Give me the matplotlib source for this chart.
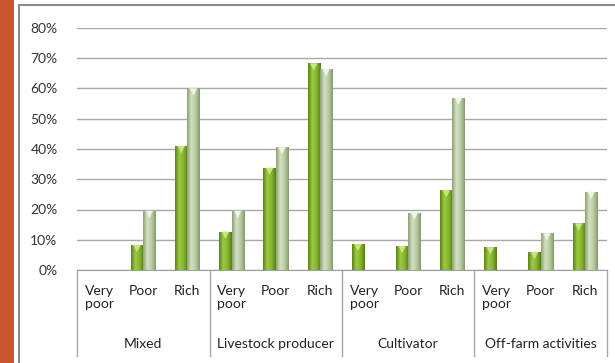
import numpy as np
import matplotlib
matplotlib.use("Agg")
import matplotlib.pyplot as plt
from matplotlib.patches import Rectangle
from matplotlib.colors import LinearSegmentedColormap
import matplotlib.transforms as mtransforms

plt.rcParams['font.family'] = ['Lato', 'DejaVu Sans']

# data
groups = ["Mixed", "Livestock producer", "Cultivator", "Off-farm activities"]
levels = ["Very\npoor", "Poor", "Rich"]
dark_vals = [0.0, 8.3, 41.0, 12.7, 33.8, 68.3, 8.6, 7.9, 26.4, 7.5, 6.0, 15.4]
light_vals = [0.0, 19.6, 60.0, 19.6, 40.6, 66.4, 0.0, 19.0, 57.0, 0.0, 12.1, 25.9]
yticks = [0, 10, 20, 30, 40, 50, 60, 70, 80]

fig = plt.figure(figsize=(6.15, 3.63), dpi=100)
fig.patch.set_facecolor("white")

# red stripe and grey frame (frame runs off the right and bottom edges)
fig.add_artist(Rectangle((0, 0), 14 / 615, 1, transform=fig.transFigure,
                         facecolor="#C9532F", edgecolor="none"))
fig.add_artist(Rectangle((19 / 615, -0.05), 0.99, 1 - 5 / 363 + 0.05,
                         transform=fig.transFigure, facecolor="none",
                         edgecolor="#8A8A8A", linewidth=1.5))

ax = fig.add_axes([77 / 615, 1 - 270 / 363, 530 / 615, 242 / 363])
ax.set_xlim(-0.5, 11.5)
ax.set_ylim(0, 80)
ax.set_yticks(yticks)
ax.set_yticklabels([f"{t}%" for t in yticks], fontsize=10, color="#333333")
ax.tick_params(axis="y", length=0, pad=14)
ax.set_xticks([])
for s in ["top", "right", "left"]:
    ax.spines[s].set_visible(False)
ax.spines["bottom"].set_color("#A0A0A0")
ax.yaxis.grid(True, color="#A8A8A8", linewidth=1)
ax.set_axisbelow(True)

dark_cmap = LinearSegmentedColormap.from_list("d", ["#5A8419", "#9CCB3E", "#86B52E", "#557D18"])
light_cmap = LinearSegmentedColormap.from_list("l", ["#8DA173", "#D3E1C3", "#B8CCA2", "#869B6C"])
grad = np.linspace(0, 1, 64).reshape(1, -1)

x = np.arange(len(dark_vals))
w = 0.28
for vals, off, cmap, cap in [(dark_vals, -0.14, dark_cmap, "#C8E67A"),
                             (light_vals, 0.14, light_cmap, "#EEF4E4")]:
    bars = ax.bar(x + off, vals, width=w, color="none", edgecolor="none", zorder=3)
    for b, v in zip(bars, vals):
        if v <= 0:
            continue
        im = ax.imshow(grad, cmap=cmap, aspect="auto", zorder=3,
                       extent=(b.get_x(), b.get_x() + b.get_width(), 0, v))
        im.set_clip_path(b)
        ax.scatter(b.get_x() + b.get_width() / 2, v - 1.2, marker="v", s=28,
                   color=cap, edgecolors="none", zorder=4)
ax.set_xlim(-0.5, 11.5)
ax.set_ylim(0, 80)

# category labels and group labels
trans = mtransforms.blended_transform_factory(ax.transData, ax.transAxes)
for i in range(len(dark_vals)):
    ax.text(i, -0.06, levels[i % 3], transform=trans, ha="center", va="top",
            multialignment="center", fontsize=10, color="#222222", linespacing=1.1)
for g, name in enumerate(groups):
    ax.text(3 * g + 1, -0.305, name, transform=trans, ha="center", va="center",
            fontsize=10, color="#222222")
for b in [-0.5, 2.5, 5.5, 8.5, 11.5]:
    ax.plot([b, b], [0, -0.355], transform=trans, color="#A8A8A8", linewidth=1,
            clip_on=False)

fig.savefig("out.png", dpi=100)
